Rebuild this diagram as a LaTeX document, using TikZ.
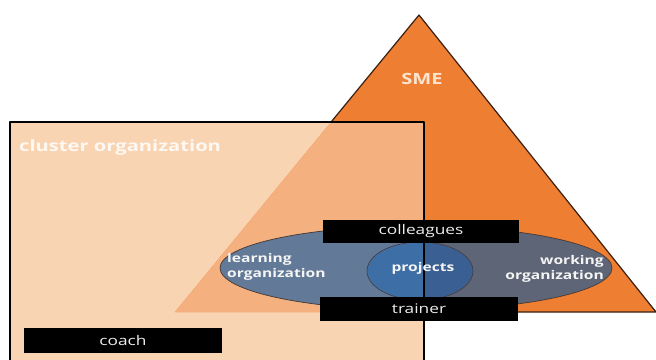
\documentclass[tikz,border=0pt]{standalone}
\usepackage{fontspec}
\setmainfont{Open Sans}[FakeStretch=1.3]
\definecolor{peach}{HTML}{F9D4B2}
\definecolor{overlapc}{HTML}{F4B17F}
\definecolor{orangec}{HTML}{EE7E31}
\definecolor{tribrd}{HTML}{3A2010}
\definecolor{ellR}{HTML}{5E6576}
\definecolor{ellL}{HTML}{627A97}
\definecolor{projR}{HTML}{3A5F92}
\definecolor{projL}{HTML}{3E6EA6}
\definecolor{ellbrd}{HTML}{4A3A35}
\definecolor{smetext}{HTML}{FCE4D0}
\begin{document}
\begin{tikzpicture}[x=1pt,y=-1pt,
  labelbox/.style={fill=black, text=white!93!black, inner sep=0pt,
    font=\fontsize{13.3}{15}\selectfont},
  boldlabel/.style={text=white!96!black, inner sep=0pt, align=left,
    font=\fontsize{12}{14.5}\selectfont\bfseries},
  biglabel/.style={inner sep=0pt, font=\fontsize{15.5}{17}\selectfont\bfseries}]
\useasboundingbox (0,0) rectangle (656,359);
\clip (0,0) rectangle (656,359);
% cluster rectangle fill
\fill[peach] (10,122) rectangle (424,370);
% SME triangle
\coordinate (A) at (419,15);
\coordinate (L) at (175,312);
\coordinate (R) at (656,312);
\fill[orangec] (A) -- (L) -- (R) -- cycle;
\begin{scope}
  \clip (10,122) rectangle (424,370);
  \fill[overlapc] (A) -- (L) -- (R) -- cycle;
\end{scope}
\begin{scope}
  \clip (0,0) -- (656,0) -- (656,359) -- (424,359) -- (424,122) -- (0,122) -- cycle;
  \draw[tribrd, line width=1.2pt, line join=round] (A) -- (L) -- (R) -- cycle;
\end{scope}
% big ellipse
\fill[ellR] (416,268) ellipse [x radius=196, y radius=42];
\begin{scope}
  \clip (10,122) rectangle (424,370);
  \fill[ellL] (416,268) ellipse [x radius=196, y radius=42];
\end{scope}
\draw[ellbrd, line width=0.7pt] (416,268) ellipse [x radius=196, y radius=42];
% projects ellipse
\fill[projR] (420,271) ellipse [x radius=53, y radius=29];
\begin{scope}
  \clip (10,122) rectangle (424,370);
  \fill[projL] (420,271) ellipse [x radius=53, y radius=29];
\end{scope}
\draw[ellbrd, line width=0.6pt] (420,271) ellipse [x radius=53, y radius=29];
% rectangle border
\draw[black, line width=1.5pt, line join=round] (10,370) -- (10,122) -- (424,122) -- (424,370);
% texts
\node[biglabel, text=smetext] (sme) at (422,79) {SME};
\node[biglabel, text=white, text opacity=0.85, anchor=west] (cluster) at (19,147) {cluster organization};
\node[boldlabel, anchor=west] (learn) at (227,267) {learning\\organization};
\node[boldlabel, anchor=east, align=right] (work) at (604,269) {working\\organization};
\node[boldlabel] (proj) at (423,268) {projects};
% label boxes
\node[labelbox, minimum width=196pt, minimum height=23pt] (coll) at (421,231.5) {colleagues};
\node[labelbox, minimum width=198pt, minimum height=24pt] (train) at (419,309) {trainer};
\node[labelbox, minimum width=198pt, minimum height=25pt] (coach) at (123,340.5) {coach};
\end{tikzpicture}
\end{document}
